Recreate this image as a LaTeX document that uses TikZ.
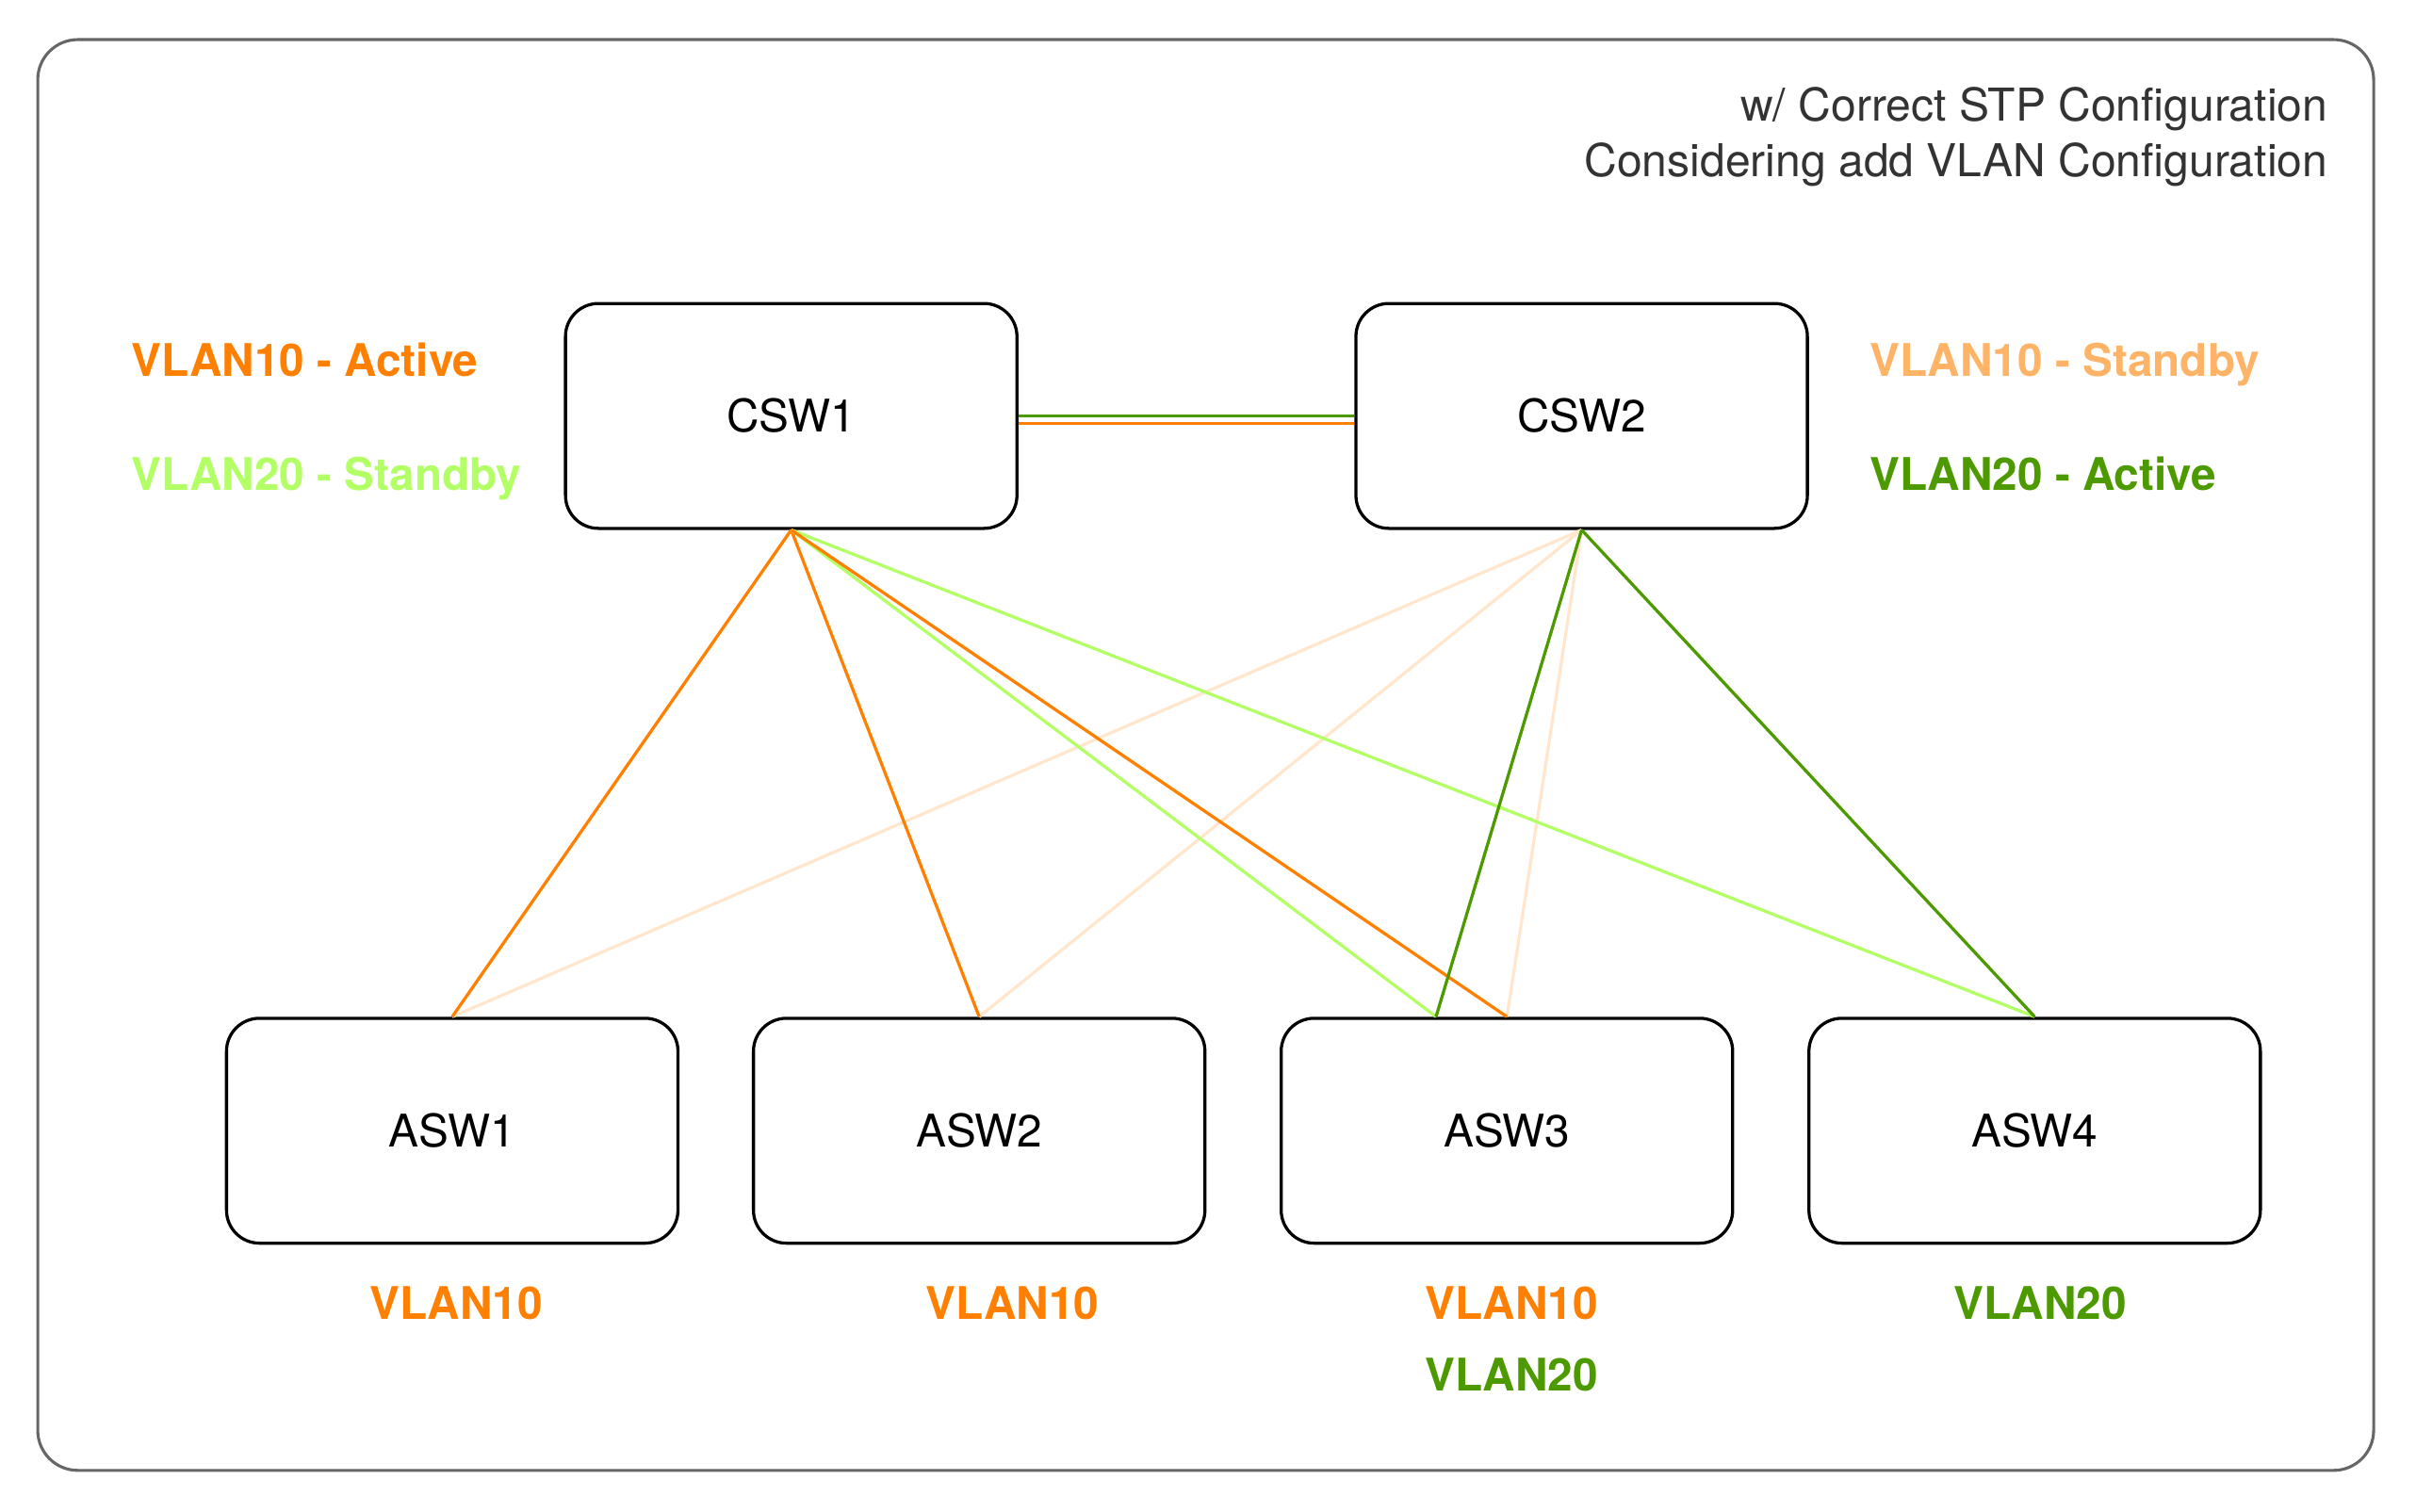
\documentclass[tikz,border=0pt]{standalone}
\usepackage{fontspec}
\setmainfont{TeX Gyre Heros}
\begin{document}
\begin{tikzpicture}[x=0.5pt,y=-0.5pt,
  box/.style={draw=black,line width=1pt,rounded corners=10.7pt,fill=white,
    minimum width=146.5pt,minimum height=73pt,inner sep=0pt,font=\fontsize{14.6}{17}\selectfont},
  lab/.style={inner sep=0pt,font=\fontsize{14.6}{17}\selectfont\bfseries},
  hdr/.style={inner sep=0pt,anchor=base east,text=hdrgray,font=\fontsize{14.7}{17}\selectfont},
  wire/.style={line width=1pt}]
\definecolor{vor}{HTML}{FF8000}
\definecolor{vlg}{HTML}{B3FF66}
\definecolor{vpeach}{HTML}{FFB366}
\definecolor{vpl}{HTML}{FFE6CC}
\definecolor{vdg}{HTML}{4D9900}
\definecolor{hdrgray}{HTML}{333333}
\definecolor{framegray}{HTML}{666666}
\useasboundingbox (0,0) rectangle (1568,981);
\draw[framegray,line width=0.95pt,rounded corners=13pt] (24.5,25.7) rectangle (1540.5,954.5);
\node[hdr] (h1) at (1511,78.5) {w/ Correct STP Configuration};
\node[hdr] (h2) at (1511,114.5) {Considering add VLAN Configuration};
% boxes
\node[box] (CSW1) at (513.5,270) {CSW1};
\node[box] (CSW2) at (1026.5,270) {CSW2};
\node[box] (ASW1) at (293.5,734) {ASW1};
\node[box] (ASW2) at (635.5,734) {ASW2};
\node[box] (ASW3) at (978,734) {ASW3};
\node[box] (ASW4) at (1320.5,734) {ASW4};
\coordinate (A3g) at ([xshift=-23pt]ASW3.north);
% connectors
\draw[wire,vdg] (CSW1.east) -- (CSW2.west);
\draw[wire,vor] ([yshift=-2.35pt]CSW1.east) -- ([yshift=-2.35pt]CSW2.west);
\draw[wire,vpl] (CSW2.south) -- (ASW1.north);
\draw[wire,vpl] (CSW2.south) -- (ASW2.north);
\draw[wire,vpl] (CSW2.south) -- (ASW3.north);
\draw[wire,vor] (CSW1.south) -- (ASW1.north);
\draw[wire,vor] (CSW1.south) -- (ASW2.north);
\draw[wire,vlg] (CSW1.south) -- (A3g);
\draw[wire,vlg] (CSW1.south) -- (ASW4.north);
\draw[wire,vor] (CSW1.south) -- (ASW3.north);
\draw[wire,vdg] (CSW2.south) -- (A3g);
\draw[wire,vdg] (CSW2.south) -- (ASW4.north);
% labels
\node[lab,anchor=base west,text=vor] (l1) at (85,244.6) {VLAN10 - Active};
\node[lab,anchor=base west,text=vlg] (l2) at (85,318) {VLAN20 - Standby};
\node[lab,anchor=base west,text=vpeach] (l3) at (1213,244.6) {VLAN10 - Standby};
\node[lab,anchor=base west,text=vdg] (l4) at (1213,318) {VLAN20 - Active};
\node[lab,anchor=base,text=vor] (b1) at (296,856.2) {VLAN10};
\node[lab,anchor=base,text=vor] (b2) at (657,856.2) {VLAN10};
\node[lab,anchor=base,text=vor] (b3) at (981,856.2) {VLAN10};
\node[lab,anchor=base,text=vdg] (b4) at (981,903) {VLAN20};
\node[lab,anchor=base,text=vdg] (b5) at (1324,856.2) {VLAN20};
\end{tikzpicture}
\end{document}
